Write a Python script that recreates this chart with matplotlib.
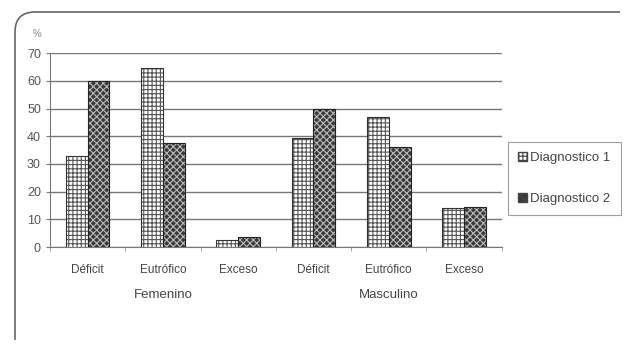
import matplotlib
matplotlib.use("Agg")
import matplotlib.pyplot as plt
from matplotlib.patches import Patch, PathPatch
from matplotlib.path import Path
import numpy as np

plt.rcParams['font.family'] = ['Liberation Sans', 'DejaVu Sans']
plt.rcParams['hatch.linewidth'] = 0.8

categories = ["Déficit", "Eutrófico", "Exceso", "Déficit", "Eutrófico", "Exceso"]
groups = ["Femenino", "Masculino"]
diag1 = [33, 64.5, 2.5, 39.5, 47, 14]
diag2 = [60, 37.5, 3.5, 50, 36, 14.5]
series_names = ["Diagnostico 1", "Diagnostico 2"]
yticks = [0, 10, 20, 30, 40, 50, 60, 70]

W, H = 624, 347
fig = plt.figure(figsize=(6.24, 3.47), dpi=100)
ax = fig.add_axes([0.080, 0.288, 0.724, 0.559])

x = np.arange(len(categories))
w = 0.29
txt = '#444444'

ax.bar(x - w/2, diag1, w, color='white', hatch='++++', edgecolor='#555555', linewidth=0, zorder=3)
ax.bar(x - w/2, diag1, w, fill=False, edgecolor='#333333', linewidth=0.8, zorder=4)
ax.bar(x + w/2, diag2, w, color='#3a3a3a', hatch='xxxxx', edgecolor='#bbbbbb', linewidth=0, zorder=3)
ax.bar(x + w/2, diag2, w, fill=False, edgecolor='#222222', linewidth=0.8, zorder=4)

ax.set_xlim(-0.5, 5.5)
ax.set_ylim(0, 70)
ax.set_yticks(yticks)
ax.yaxis.grid(True, color='#777777', linewidth=1.0, zorder=1)
ax.set_axisbelow(True)
for s in ['top', 'right']:
    ax.spines[s].set_visible(False)
ax.spines['left'].set_color('#777777')
ax.spines['bottom'].set_color('#777777')
ax.tick_params(axis='y', labelsize=9, colors='#777777', labelcolor='#555555', length=3)
ax.set_xticks(x)
ax.set_xticklabels(categories, fontsize=8.5, color=txt)
ax.tick_params(axis='x', length=0, pad=12)
ax.set_xticks(np.arange(-0.5, 6.0, 1.0), minor=True)
ax.tick_params(axis='x', which='minor', length=3, colors='#999999')

for i, g in enumerate(groups):
    ax.text(1 + 3 * i, -0.245, g, transform=ax.get_xaxis_transform(),
            ha='center', va='center', fontsize=9.5, color=txt)

ax.text(-0.028, 1.1, "%", transform=ax.transAxes, fontsize=7, color='#888888',
        ha='center', va='center')

handles = [Patch(facecolor='white', hatch='++++', edgecolor='#444444', label=series_names[0]),
           Patch(facecolor='#3a3a3a', hatch='xxxx', edgecolor='#444444', label=series_names[1])]
leg = fig.legend(handles=handles, loc='upper left', bbox_to_anchor=(508 / W, 1 - 142 / H),
                 fontsize=9.5, frameon=True, fancybox=False, edgecolor='#888888',
                 handlelength=0.7, handleheight=0.7, handletextpad=0.25,
                 labelspacing=2.2, borderpad=0.75, borderaxespad=0)
leg.get_frame().set_linewidth(0.8)
for t in leg.get_texts():
    t.set_color(txt)

def fx(px):
    return px / W
def fy(py):
    return 1 - py / H
verts = [(fx(15), fy(340)), (fx(15), fy(32)), (fx(15), fy(12)), (fx(35), fy(12)), (fx(620), fy(12))]
codes = [Path.MOVETO, Path.LINETO, Path.CURVE3, Path.CURVE3, Path.LINETO]
frame = PathPatch(Path(verts, codes), transform=fig.transFigure, fill=False,
                  edgecolor='#666666', linewidth=1.2)
fig.patches.append(frame)

fig.savefig("out.png", dpi=100, facecolor='white')
